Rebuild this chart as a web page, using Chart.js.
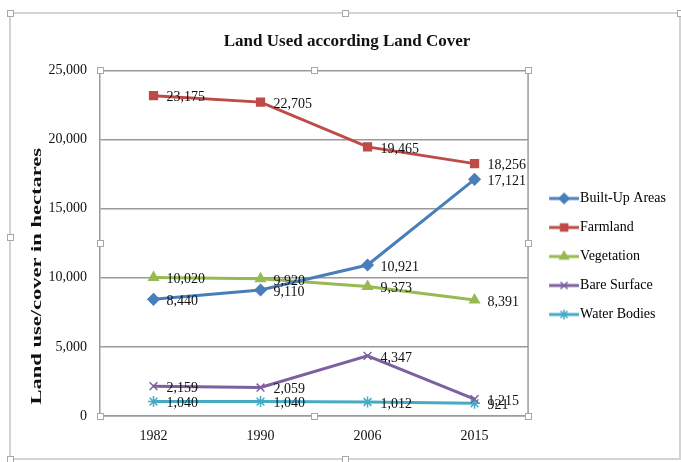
<!DOCTYPE html>
<html>
<head>
<meta charset="utf-8">
<script src="https://cdn.jsdelivr.net/npm/chart.js@4.4.1/dist/chart.umd.min.js"></script>
<style>
  html, body { margin: 0; padding: 0; background: #fff; }
  #wrap { width: 681px; height: 462px; position: relative; }
</style>
</head>
<body>
<div id="wrap"><canvas id="chart" width="681" height="462"></canvas></div>
<script>
// data
const years = ['1982', '1990', '2006', '2015'];
const builtUp = [8440, 9110, 10921, 17121];
const farmland = [23175, 22705, 19465, 18256];
const vegetation = [10020, 9920, 9373, 8391];
const bareSurface = [2159, 2059, 4347, 1215];
const waterBodies = [1040, 1040, 1012, 921];
const yTicks = [0, 5000, 10000, 15000, 20000, 25000];
const yTitle = 'Land use/cover in hectares';

const serif = '"Liberation Serif", "Times New Roman", serif';
const gridGrey = '#9a9a9a';

// legend marker: short line with the point style in the middle
function legendIcon(color, style) {
  const c = document.createElement('canvas');
  c.width = 42; c.height = 14;
  const ctx = c.getContext('2d');
  ctx.strokeStyle = color;
  ctx.fillStyle = color;
  ctx.lineWidth = 3;
  ctx.beginPath();
  ctx.moveTo(12, 7); ctx.lineTo(42, 7);
  ctx.stroke();
  ctx.lineWidth = 1.5;
  Chart.helpers.drawPoint(ctx, { pointStyle: style, radius: 5, rotation: 0, borderWidth: 1.5 }, 27, 7);
  return c;
}

function series(label, data, color, style) {
  return {
    label: label,
    data: data,
    borderColor: color,
    backgroundColor: color,
    borderWidth: 3,
    pointStyle: style,
    pointRadius: 5.5,
    pointBorderWidth: 1.5,
    pointHoverRadius: 5.5,
    tension: 0,
    legendIcon: legendIcon(color, style)
  };
}

// nudge legend and title to where the original has them
const nudge = {
  id: 'nudge',
  afterLayout(chart) {
    const lg = chart.legend;
    lg.top += 19; lg.bottom += 19;
    const tb = chart.titleBlock;
    tb.left += 3; tb.right += 3;
  }
};

// value labels to the right of each point
const valueLabels = {
  id: 'valueLabels',
  afterDatasetsDraw(chart) {
    const ctx = chart.ctx;
    ctx.save();
    ctx.font = '14px ' + serif;
    ctx.fillStyle = '#111';
    ctx.textBaseline = 'middle';
    ctx.textAlign = 'left';
    chart.data.datasets.forEach((ds, i) => {
      chart.getDatasetMeta(i).data.forEach((pt, j) => {
        ctx.fillText(ds.data[j].toLocaleString('en-US'), pt.x + 13, pt.y + 2);
      });
    });
    ctx.restore();
  }
};

// outer frame, plot-area frame, y title and the little selection handles
const frame = {
  id: 'frame',
  beforeDraw(chart) {
    const ctx = chart.ctx;
    ctx.save();
    ctx.fillStyle = '#fff';
    ctx.fillRect(0, 0, chart.width, chart.height);
    ctx.strokeStyle = '#d4d4d4';
    ctx.lineWidth = 2;
    ctx.strokeRect(10, 13, 670, 446);
    ctx.restore();
  },
  afterDraw(chart) {
    const ctx = chart.ctx;
    const a = chart.chartArea;
    ctx.save();
    // y axis title, stretched along its length like the original
    ctx.translate(37, (a.top + a.bottom) / 2 + 33);
    ctx.rotate(-Math.PI / 2);
    ctx.scale(1.5, 1);
    ctx.font = 'bold 15px ' + serif;
    ctx.fillStyle = '#111';
    ctx.textAlign = 'center';
    ctx.textBaseline = 'middle';
    ctx.fillText(yTitle, 0, 0);
    ctx.restore();

    ctx.save();
    ctx.strokeStyle = gridGrey;
    ctx.lineWidth = 1.5;
    ctx.beginPath();
    ctx.moveTo(a.right, a.top); ctx.lineTo(a.right, a.bottom);
    ctx.stroke();
    const handles = [
      [a.left, a.top], [(a.left + a.right) / 2, a.top], [a.right, a.top],
      [a.left, (a.top + a.bottom) / 2], [a.right, (a.top + a.bottom) / 2],
      [a.left, a.bottom], [(a.left + a.right) / 2, a.bottom], [a.right, a.bottom],
      [10, 13], [345, 13], [680, 13], [10, 237], [10, 459], [345, 459]
    ];
    ctx.fillStyle = '#fff';
    ctx.strokeStyle = '#a8a8a8';
    ctx.lineWidth = 1;
    handles.forEach(h => {
      ctx.fillRect(h[0] - 3, h[1] - 3, 6, 6);
      ctx.strokeRect(Math.round(h[0]) - 2.5, Math.round(h[1]) - 2.5, 6, 6);
    });
    ctx.restore();
  }
};

new Chart(document.getElementById('chart'), {
  type: 'line',
  data: {
    labels: years,
    datasets: [
      series('Built-Up Areas', builtUp, '#4a7ebb', 'rectRot'),
      series('Farmland', farmland, '#be4b48', 'rect'),
      series('Vegetation', vegetation, '#98b954', 'triangle'),
      series('Bare Surface', bareSurface, '#7d60a0', 'crossRot'),
      series('Water Bodies', waterBodies, '#46aac5', 'star')
    ]
  },
  options: {
    responsive: false,
    animation: false,
    layout: { padding: { left: 12, right: 5, top: 27, bottom: 14 } },
    plugins: {
      title: {
        display: true,
        text: 'Land Used according Land Cover',
        color: '#111',
        font: { family: serif, size: 17, weight: 'bold' },
        padding: { top: 4, bottom: 19 }
      },
      legend: {
        position: 'right',
        labels: {
          color: '#111',
          font: { family: serif, size: 14 },
          usePointStyle: true,
          pointStyleWidth: 30,
          padding: 15,
          generateLabels(chart) {
            return chart.data.datasets.map((ds, i) => ({
              text: ds.label,
              pointStyle: ds.legendIcon,
              fillStyle: ds.borderColor,
              strokeStyle: ds.borderColor,
              lineWidth: 0,
              hidden: false,
              datasetIndex: i
            }));
          }
        }
      },
      tooltip: { enabled: false }
    },
    scales: {
      x: {
        offset: true,
        grid: { display: false, drawTicks: false },
        border: { color: gridGrey, width: 1.5 },
        ticks: { color: '#111', font: { family: serif, size: 14 }, padding: 12 },
        afterFit(scale) { scale.height = 32; }
      },
      y: {
        min: 0,
        max: 25000,
        afterBuildTicks(scale) { scale.ticks = yTicks.map(v => ({ value: v })); },
        grid: { color: gridGrey, lineWidth: 1.5, drawTicks: false },
        border: { color: gridGrey, width: 1.5 },
        ticks: {
          color: '#111',
          font: { family: serif, size: 14 },
          padding: 13,
          callback: v => v.toLocaleString('en-US')
        },
        afterFit(scale) { scale.width = 88; }
      }
    }
  },
  plugins: [nudge, frame, valueLabels]
});
</script>
</body>
</html>
